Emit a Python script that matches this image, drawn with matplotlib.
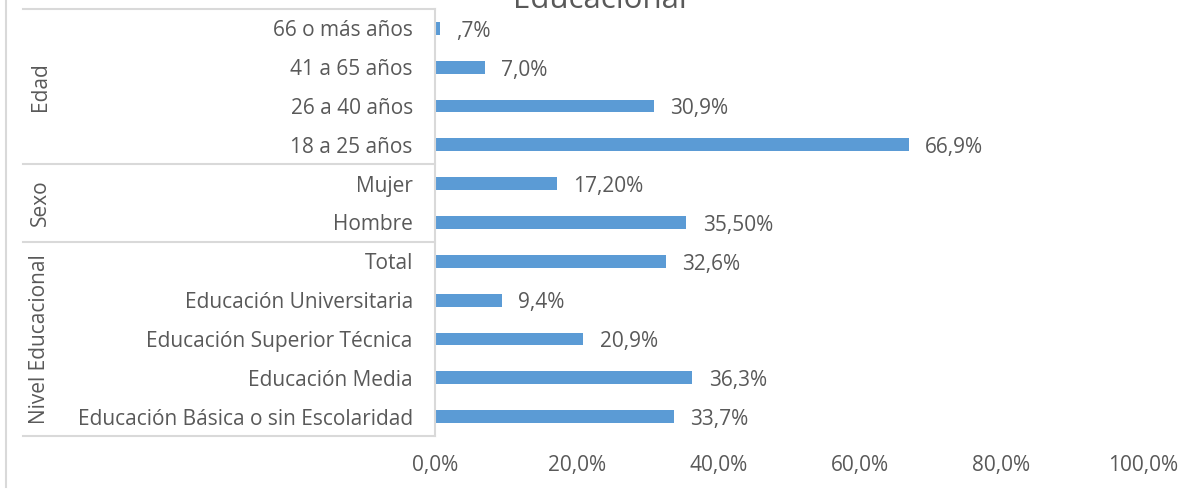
import matplotlib
matplotlib.use("Agg")
import matplotlib.pyplot as plt
from matplotlib.lines import Line2D
import matplotlib.transforms as mtransforms

plt.rcParams['font.family'] = ['Open Sans', 'DejaVu Sans']

categories = ["66 o más años", "41 a 65 años", "26 a 40 años", "18 a 25 años",
              "Mujer", "Hombre",
              "Total", "Educación Universitaria", "Educación Superior Técnica",
              "Educación Media", "Educación Básica o sin Escolaridad"]
values = [0.007, 0.070, 0.309, 0.669, 0.172, 0.355, 0.326, 0.094, 0.209, 0.363, 0.337]
value_labels = [",7%", "7,0%", "30,9%", "66,9%", "17,20%", "35,50%",
                "32,6%", "9,4%", "20,9%", "36,3%", "33,7%"]
groups = ["Edad", "Sexo", "Nivel Educacional"]
group_sizes = [4, 2, 5]
x_ticks = [0.0, 0.2, 0.4, 0.6, 0.8, 1.0]
x_tick_labels = ["0,0%", "20,0%", "40,0%", "60,0%", "80,0%", "100,0%"]
title = "Educacional"

W, H = 1182, 493
TXT = "#595959"
LINE = "#D9D9D9"
BAR = "#5B9BD5"
FS = 15

fig = plt.figure(figsize=(W / 100, H / 100), dpi=100)
ax = fig.add_axes([435 / W, 1 - 436 / H, (1143 - 435) / W, (436 - 9) / H])

ypos = list(range(len(categories)))
ax.barh(ypos, values, height=0.33, color=BAR)
ax.set_xlim(0, 1)
ax.set_ylim(len(categories) - 0.5, -0.5)
ax.set_yticks(ypos)
ax.set_yticklabels(categories, fontsize=FS, color=TXT)
ax.set_xticks(x_ticks)
ax.set_xticklabels(x_tick_labels, fontsize=FS, color=TXT)
ax.tick_params(axis='y', length=0, pad=16)
ax.tick_params(axis='x', length=0, pad=14)
for s in ax.spines.values():
    s.set_visible(False)

for y, v, lab in zip(ypos, values, value_labels):
    ax.annotate(lab, xy=(v, y), xytext=(12, -2), textcoords='offset points',
                ha='left', va='center', fontsize=FS, color=TXT)

# category box lines
trans = mtransforms.blended_transform_factory(fig.transFigure, ax.transData)
x0 = 23 / W
x1 = 435 / W
bounds = [-0.5]
acc = -0.5
for g in group_sizes:
    acc += g
    bounds.append(acc)
for b in bounds:
    ax.add_line(Line2D([x0, x1], [b, b], transform=trans, color=LINE, lw=1.5, clip_on=False))
ax.add_line(Line2D([x1, x1], [bounds[0], bounds[-1]], transform=trans, color=LINE, lw=1.5, clip_on=False))

# group labels
start = 0
for g, n in zip(groups, group_sizes):
    mid = start + (n - 1) / 2
    ax.text(40 / W, mid, g, transform=trans, rotation=90, ha='center', va='center',
            fontsize=FS, color=TXT)
    start += n

# outer border at left
fig.add_artist(Line2D([6 / W, 6 / W], [1 - 487 / H, 1], transform=fig.transFigure, color=LINE, lw=1.5))

# clipped title (cut off at the top edge, as in the reference)
fig.text(600 / W, 1 - 7.5 / H, title, ha='center', va='baseline', fontsize=22.5, color=TXT)

fig.savefig("out.png", dpi=100)
